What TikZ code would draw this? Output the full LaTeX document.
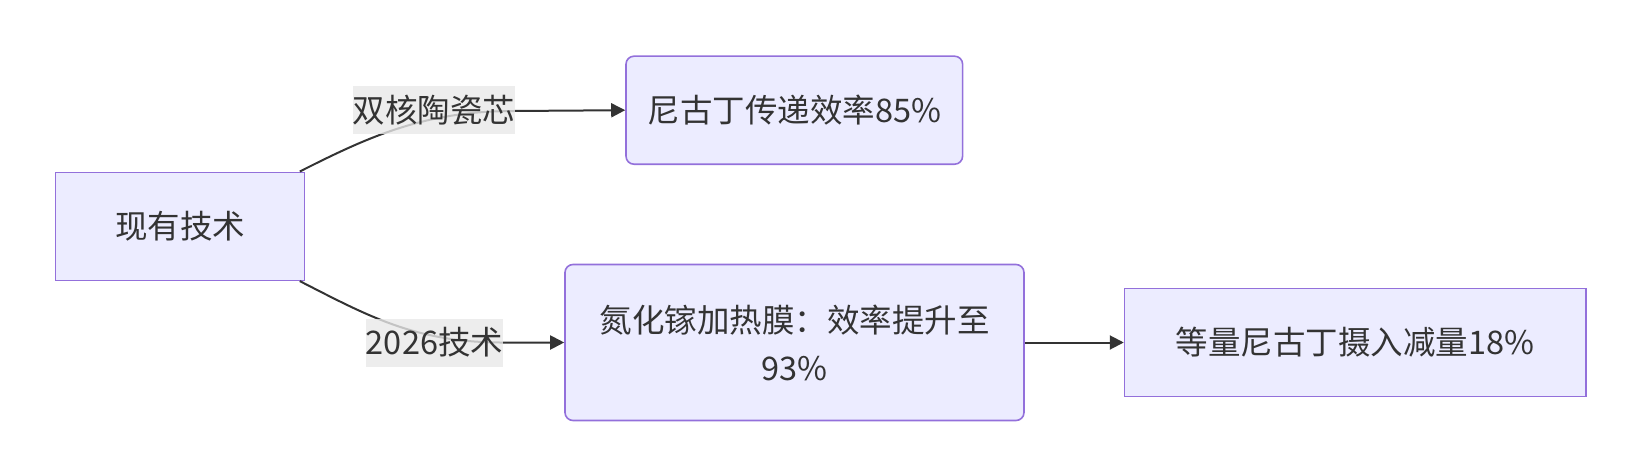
\documentclass[tikz,border=0pt]{standalone}
\usepackage{fontspec}
\setmainfont{Noto Sans CJK SC}
\usetikzlibrary{arrows.meta}
\definecolor{nodefill}{HTML}{ECECFF}
\definecolor{nodeline}{HTML}{9370DB}
\definecolor{edgecol}{HTML}{333333}
\definecolor{txtcol}{HTML}{333333}
\definecolor{lblfill}{HTML}{E8E8E8}
\tikzset{
  box/.style={draw=nodeline, fill=nodefill, line width=1.6pt, inner sep=0pt,
    text=txtcol, font=\fontsize{32.5}{48}\selectfont, align=center},
  rbox/.style={box, rounded corners=8pt},
  edgelbl/.style={fill=lblfill, fill opacity=0.8, text opacity=1, inner sep=0pt,
    text=txtcol, font=\fontsize{32.5}{48}\selectfont},
  conn/.style={draw=edgecol, line width=2pt, -{Triangle[length=14pt,width=14pt]}},
}
\begin{document}
\begin{tikzpicture}[x=1pt,y=-1pt]
\useasboundingbox (0,0) rectangle (1640,476);
\node[box, minimum width=249pt, minimum height=108pt] (A) at (180,226.3) {现有技术};
\node[rbox, minimum width=336.6pt, minimum height=108pt] (B) at (794.3,110.2) {尼古丁传递效率85\%};
\node[rbox, minimum width=459pt, minimum height=156pt] (C) at (794.5,342.5) {氮化镓加热膜：效率提升至\\93\%};
\node[box, minimum width=461.3pt, minimum height=107.7pt] (D) at (1355.2,342.5) {等量尼古丁摄入减量18\%};
\coordinate (a1) at ([xshift=-5.5pt]A.north east);
\coordinate (a2) at ([xshift=-5.5pt]A.south east);
\draw[conn] (a1) .. controls (370,136) and (425,111) .. (514,111) -- (B.west);
\draw[conn] (a2) .. controls (368,316) and (415,342) .. (500,342.5) -- (C.west);
\draw[conn] (C.east) -- (D.west);
\node[edgelbl, minimum width=160.5pt, minimum height=47.5pt] (L1) at (434,109.8) {双核陶瓷芯};
\node[edgelbl, minimum width=131pt, minimum height=48pt] (L2) at (434.5,342.5) {2026技术};
\end{tikzpicture}
\end{document}
